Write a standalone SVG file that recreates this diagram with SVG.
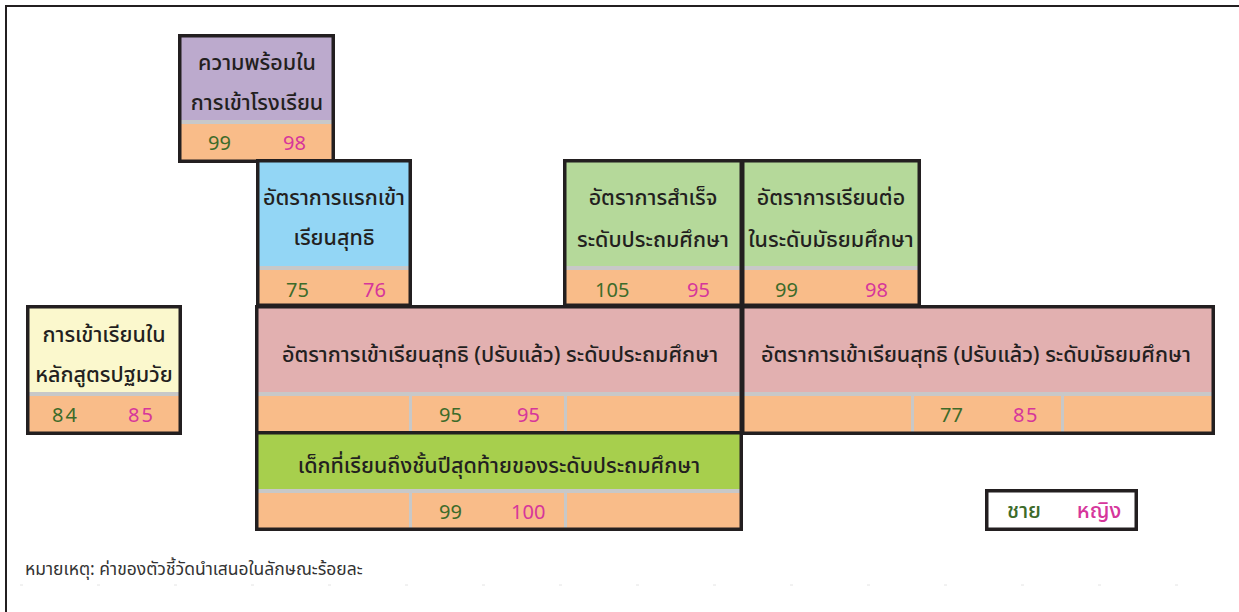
<svg xmlns="http://www.w3.org/2000/svg" width="1239" height="612" viewBox="0 0 1239 612">
<style>
.t{font-family:"Noto Sans Thai","Noto Sans","DejaVu Sans",sans-serif;font-size:21.5px;font-weight:500;fill:#231f20;text-anchor:middle}
.n{font-family:"Noto Sans","DejaVu Sans",sans-serif;font-size:20px}
.m{fill:#3d6b2a}
.f{fill:#d6369b}
.b{fill:none;stroke:#231f20;stroke-width:3.5}
.o{fill:#f9bc89}
.g{fill:#c8c8c8}
.note{font-family:"Noto Sans Thai","Noto Sans","DejaVu Sans",sans-serif;font-size:17.5px;fill:#333}
</style>
<rect width="1239" height="612" fill="#fff"/>
<g id="frame">
<path d="M6 612V6H1239" fill="none" stroke="#231f20" stroke-width="2"/>
<line x1="20" y1="585" x2="1239" y2="585" stroke="#e4e4e4" stroke-width="1" stroke-dasharray="3 74"/>
</g>
<g id="readiness">
<rect x="178" y="34" width="157" height="86" fill="#bcaacd"/>
<rect x="178" y="120" width="157" height="4" class="g"/>
<rect x="178" y="124" width="157" height="39" class="o"/>
<rect x="179.75" y="35.75" width="153.5" height="125.5" class="b"/>
<text class="t" x="257" y="70">ความพร้อมใน</text>
<text class="t" x="257" y="110">การเข้าโรงเรียน</text>
<text class="n m" x="208" y="150">99</text>
<text class="n f" x="283" y="150">98</text>
</g>
<g id="intake">
<rect x="256" y="159" width="156" height="107" fill="#93d6f5"/>
<rect x="256" y="266" width="156" height="4" class="g"/>
<rect x="256" y="270" width="156" height="37" class="o"/>
<rect x="257.75" y="160.75" width="152.5" height="144.5" class="b"/>
<text class="t" x="334" y="205">อัตราการแรกเข้า</text>
<text class="t" x="334" y="245">เรียนสุทธิ</text>
<text class="n m" x="286" y="297">75</text>
<text class="n f" x="363" y="297">76</text>
</g>
<g id="completion">
<rect x="563" y="159" width="180" height="107" fill="#b5d99a"/>
<rect x="563" y="266" width="180" height="4" class="g"/>
<rect x="563" y="270" width="180" height="37" class="o"/>
<rect x="564.75" y="160.75" width="176.5" height="144.5" class="b"/>
<text class="t" x="653" y="205">อัตราการสำเร็จ</text>
<text class="t" x="653" y="247">ระดับประถมศึกษา</text>
<text class="n m" x="595" y="297">105</text>
<text class="n f" x="687" y="297">95</text>
</g>
<g id="transition">
<rect x="741" y="159" width="180" height="107" fill="#b5d99a"/>
<rect x="741" y="266" width="180" height="4" class="g"/>
<rect x="741" y="270" width="180" height="37" class="o"/>
<rect x="742.75" y="160.75" width="176.5" height="144.5" class="b"/>
<text class="t" x="831" y="205">อัตราการเรียนต่อ</text>
<text class="t" x="831" y="247">ในระดับมัธยมศึกษา</text>
<text class="n m" x="775" y="297">99</text>
<text class="n f" x="865" y="297">98</text>
</g>
<g id="early">
<rect x="26" y="305" width="156" height="87" fill="#fbf8cd"/>
<rect x="26" y="392" width="156" height="4" class="g"/>
<rect x="26" y="396" width="156" height="39" class="o"/>
<rect x="27.75" y="306.75" width="152.5" height="126.5" class="b"/>
<text class="t" x="104" y="342">การเข้าเรียนใน</text>
<text class="t" x="104" y="382">หลักสูตรปฐมวัย</text>
<text class="n m" x="52" y="422" letter-spacing="2">84</text>
<text class="n f" x="128" y="422" letter-spacing="2">85</text>
</g>
<g id="primary-ner">
<rect x="255" y="305" width="488" height="87" fill="#e2b0b0"/>
<rect x="255" y="392" width="488" height="4" class="g"/>
<rect x="255" y="396" width="488" height="39" class="o"/>
<rect x="409" y="396" width="3" height="37" class="g"/>
<rect x="564" y="396" width="3" height="37" class="g"/>
<rect x="256.75" y="306.75" width="484.5" height="126.5" class="b"/>
<text class="t" x="500" y="362">อัตราการเข้าเรียนสุทธิ (ปรับแล้ว) ระดับประถมศึกษา</text>
<text class="n m" x="439" y="422">95</text>
<text class="n f" x="517" y="422">95</text>
</g>
<g id="lower-secondary-ner">
<rect x="741" y="305" width="474" height="87" fill="#e2b0b0"/>
<rect x="741" y="392" width="474" height="4" class="g"/>
<rect x="741" y="396" width="474" height="39" class="o"/>
<rect x="911" y="396" width="3" height="37" class="g"/>
<rect x="1061" y="396" width="3" height="37" class="g"/>
<rect x="742.75" y="306.75" width="470.5" height="126.5" class="b"/>
<text class="t" x="976" y="362">อัตราการเข้าเรียนสุทธิ (ปรับแล้ว) ระดับมัธยมศึกษา</text>
<text class="n m" x="940" y="422">77</text>
<text class="n f" x="1013" y="422" letter-spacing="1.5">85</text>
</g>
<g id="last-grade">
<rect x="255" y="431" width="488" height="58" fill="#a7cf4d"/>
<rect x="255" y="489" width="488" height="4" class="g"/>
<rect x="255" y="493" width="488" height="38" class="o"/>
<rect x="409" y="493" width="3" height="36" class="g"/>
<rect x="564" y="493" width="3" height="36" class="g"/>
<rect x="256.75" y="432.75" width="484.5" height="96.5" class="b"/>
<text class="t" x="499" y="473">เด็กที่เรียนถึงชั้นปีสุดท้ายของระดับประถมศึกษา</text>
<text class="n m" x="439" y="519">99</text>
<text class="n f" x="511" y="519">100</text>
</g>
<g id="legend">
<rect x="986.75" y="490.75" width="149.5" height="38.5" fill="#fff" class="b"/>
<text class="t m" x="1024" y="518">ชาย</text>
<text class="t f" x="1099" y="518">หญิง</text>
</g>
<g id="connectors"></g>
<text class="note" x="25" y="575">หมายเหตุ: ค่าของตัวชี้วัดนำเสนอในลักษณะร้อยละ</text>
</svg>
